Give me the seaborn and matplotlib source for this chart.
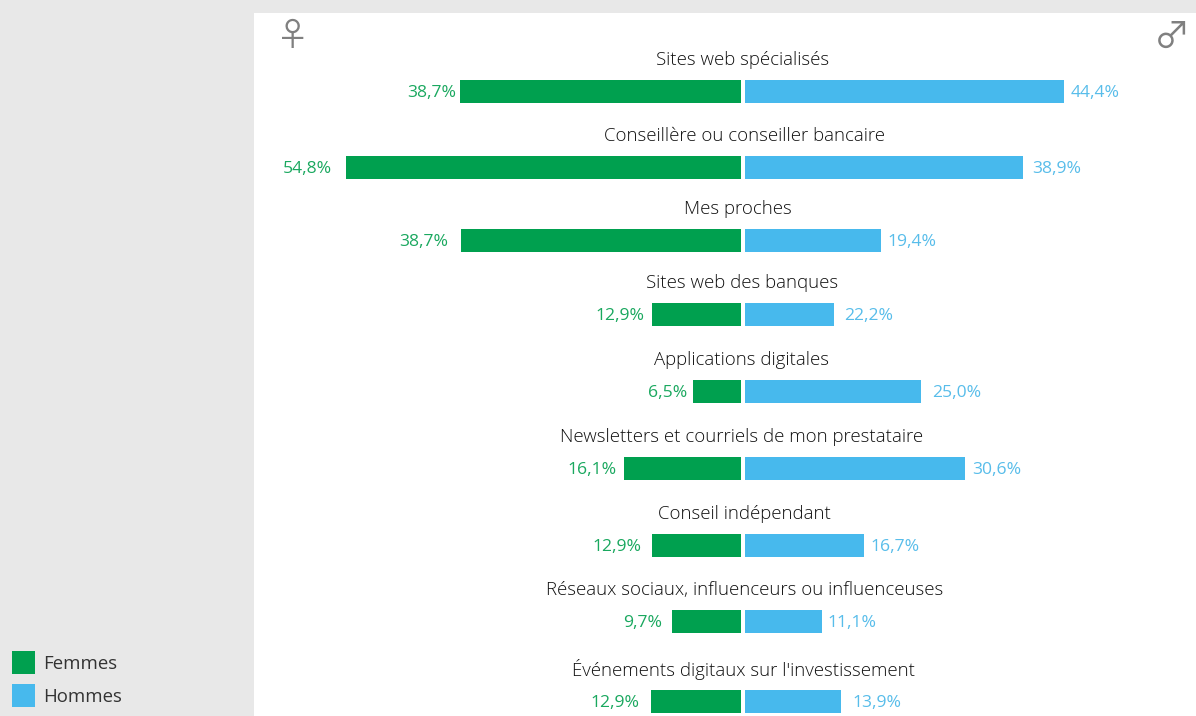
import pandas as pd
import seaborn as sns
import matplotlib.pyplot as plt
from matplotlib.patches import Patch, Rectangle

sns.set_theme(style='white')
plt.rcParams['font.family'] = ['Open Sans', 'DejaVu Sans']

categories = ['Sites web spécialisés', 'Conseillère ou conseiller bancaire', 'Mes proches',
              'Sites web des banques', 'Applications digitales',
              'Newsletters et courriels de mon prestataire', 'Conseil indépendant',
              'Réseaux sociaux, influenceurs ou influenceuses',
              "Événements digitaux sur l'investissement"]
# bar lengths, the printed labels are kept apart
# (the source bars don't always agree with their labels, see 22,2%)
femmes = [38.9, 54.7, 38.8, 12.3, 6.6, 16.2, 12.3, 9.6, 12.5]
femmes_labels = ['38,7%', '54,8%', '38,7%', '12,9%', '6,5%', '16,1%', '12,9%', '9,7%', '12,9%']
hommes = [44.6, 38.9, 19.0, 12.5, 24.6, 30.8, 16.7, 10.7, 13.4]
hommes_labels = ['44,4%', '38,9%', '19,4%', '22,2%', '25,0%', '30,6%', '16,7%', '11,1%', '13,9%']

# layout, in pixels
row_y = [91, 167, 240, 314, 391, 468, 545, 621, 701]
title_x = [743, 744, 737.5, 742.5, 741.5, 742, 744.5, 744.5, 743.5]
gap_f = [4, 14, 13, 8, 6, 7, 11, 10, 11]
gap_h = [7, 9, 7, 10, 11, 7, 6, 6, 12]
W, H = 1196, 716
GREEN, BLUE = '#00a04f', '#47b9ed'

df = pd.DataFrame({'cat': categories, 'f': femmes, 'h': hommes, 'y': row_y})

fig = plt.figure(figsize=(W / 100, H / 100), dpi=100, facecolor='#e8e8e8')
fig.add_artist(Rectangle((254 / W, 0), (W - 254) / W, (H - 13) / H, transform=fig.transFigure,
                         facecolor='white', edgecolor='none', zorder=0))

ax_f = fig.add_axes([254 / W, 0, 487 / W, 1], zorder=2)
ax_h = fig.add_axes([745 / W, 0, 451 / W, 1], zorder=2)

sns.barplot(data=df, x='f', y='y', orient='y', native_scale=True, color=GREEN, saturation=1,
            width=23 / 73, linewidth=0, ax=ax_f)
sns.barplot(data=df, x='h', y='y', orient='y', native_scale=True, color=BLUE, saturation=1,
            width=23 / 73, linewidth=0, ax=ax_h)

ax_f.set_xlim(487 / 7.22, 0)
ax_h.set_xlim(0, 451 / 7.15)
for ax in (ax_f, ax_h):
    ax.set_ylim(H, 0)
    ax.axis('off')

for i, y in enumerate(row_y):
    ax_f.annotate(femmes_labels[i], (femmes[i], y), xytext=(-gap_f[i], -2), textcoords='offset pixels',
                  ha='right', va='center', fontsize=12.6, color='#1aa85f')
    ax_h.annotate(hommes_labels[i], (hommes[i], y), xytext=(gap_h[i], -2), textcoords='offset pixels',
                  ha='left', va='center', fontsize=12.6, color='#58bdea')
    fig.text(title_x[i] / W, 1 - (y - 31) / H, categories[i], ha='center', va='center',
             fontsize=13.45, fontweight='light', color='#111111', zorder=3)

sym_font = ['Noto Sans CJK SC', 'DejaVu Sans']
fig.text(293 / W, 1 - 36 / H, '♀', family=sym_font, ha='center', va='center', fontsize=24, color='#808080')
fig.text(1172 / W, 1 - 38 / H, '♂', family=sym_font, ha='center', va='center', fontsize=26, color='#808080')

handles = [Patch(color=GREEN, label='Femmes', linewidth=0), Patch(color=BLUE, label='Hommes', linewidth=0)]
fig.legend(handles=handles, loc='lower left', bbox_to_anchor=(12 / W, 9 / H), bbox_transform=fig.transFigure,
           frameon=False, fontsize=13.4, labelcolor='#333333', borderpad=0, borderaxespad=0,
           handlelength=1.24, handleheight=1.52, handletextpad=0.43, labelspacing=0.54)

fig.savefig('out.png', dpi=100, facecolor=fig.get_facecolor())
